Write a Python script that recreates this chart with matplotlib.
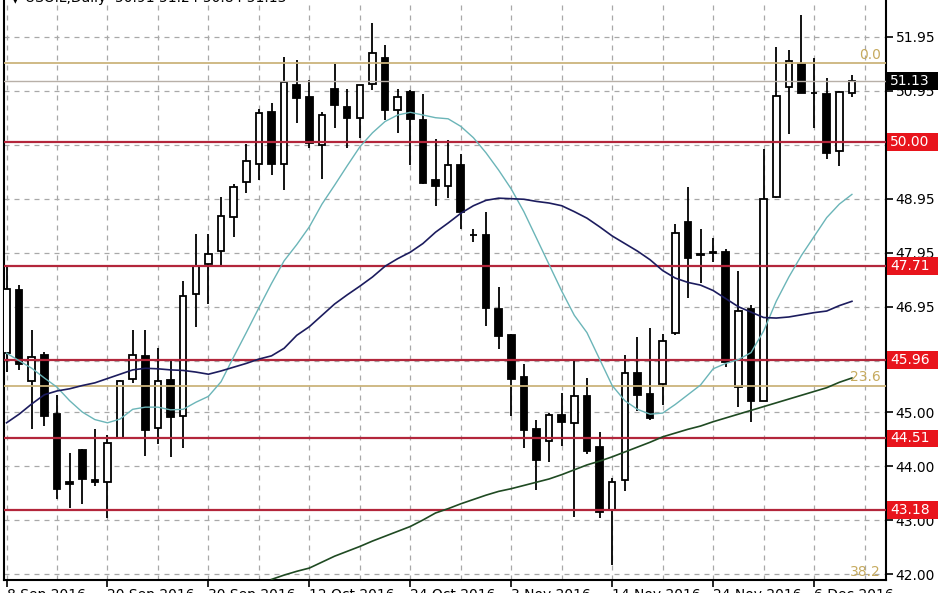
import sys
import numpy as np
import matplotlib
matplotlib.use("Agg")
import matplotlib.pyplot as plt
from matplotlib.patches import Rectangle

# daily candles (8 Sep 2016 .. 8 Dec 2016)
opens = [46.09, 47.26, 45.58, 46.05, 44.96, 43.70, 44.30, 43.75, 43.70, 44.51,
         45.62, 46.03, 44.70, 45.60, 44.93, 47.19, 47.75, 47.98, 48.62, 49.26,
         49.59, 50.56, 49.59, 51.05, 50.83, 49.95, 50.99, 50.64, 50.45, 51.08,
         51.55, 50.59, 50.92, 50.41, 49.30, 49.18, 49.58, 48.28, 48.28, 46.91,
         46.42, 45.64, 44.68, 44.47, 44.94, 44.79, 45.29, 44.35, 43.19, 43.74,
         45.72, 45.33, 45.51, 46.47, 48.52, 47.92, 47.96, 47.96, 45.47, 46.91,
         45.21, 48.99, 51.01, 51.45, 50.91, 50.89, 49.84, 50.91]
highs = [47.73, 47.35, 46.51, 46.12, 45.32, 44.24, 44.32, 44.68, 44.57, 45.60,
         46.51, 46.52, 46.18, 45.95, 47.42, 48.29, 48.29, 48.99, 49.22, 49.96,
         50.61, 50.73, 51.57, 51.52, 51.15, 50.56, 51.45, 50.98, 51.06, 52.20,
         51.80, 50.98, 50.96, 50.89, 50.06, 50.03, 49.78, 48.38, 48.71, 47.31,
         46.44, 45.88, 44.86, 44.99, 45.35, 45.95, 45.63, 44.63, 43.77, 46.05,
         46.38, 46.56, 46.44, 48.48, 49.17, 48.38, 48.22, 48.01, 47.61, 46.98,
         49.87, 51.76, 51.71, 52.36, 51.55, 51.18, 50.94, 51.24]
lows = [45.74, 45.77, 44.68, 44.75, 43.39, 43.23, 43.30, 43.63, 43.04, 44.50,
        45.53, 44.19, 44.40, 44.17, 44.33, 46.58, 47.00, 47.73, 48.24, 49.05,
        49.29, 49.38, 49.12, 50.35, 49.88, 49.32, 50.26, 49.88, 50.08, 50.96,
        50.40, 50.16, 49.58, 49.23, 48.82, 48.97, 48.38, 48.15, 46.60, 46.16,
        44.93, 44.33, 43.55, 44.07, 44.37, 43.05, 44.23, 43.04, 42.16, 43.53,
        45.02, 44.86, 45.13, 46.42, 47.12, 47.38, 47.78, 45.84, 45.09, 44.82,
        45.20, 48.96, 50.15, 50.90, 50.26, 49.68, 49.56, 50.84]
closes = [47.28, 45.88, 46.02, 44.93, 43.58, 43.67, 43.76, 43.70, 44.42, 45.58,
          46.05, 44.67, 45.58, 44.91, 47.14, 47.70, 47.93, 48.63, 49.17, 49.65,
          50.54, 49.59, 51.12, 50.82, 49.98, 50.50, 50.68, 50.45, 51.05, 51.64,
          50.59, 50.84, 50.43, 49.24, 49.19, 49.57, 48.71, 48.27, 46.93, 46.40,
          45.61, 44.67, 44.11, 44.94, 44.82, 45.29, 44.28, 43.14, 43.70, 45.72,
          45.32, 44.89, 46.31, 48.31, 47.85, 47.90, 47.95, 45.93, 46.87, 45.20,
          48.95, 50.85, 51.50, 50.91, 50.90, 49.80, 50.92, 51.13]

# moving averages as drawn on the chart
ma_fast = [46.09, 45.95, 45.81, 45.63, 45.46, 45.21, 45.00, 44.86, 44.80, 44.87,
           45.05, 45.09, 45.09, 45.04, 45.05, 45.18, 45.29, 45.56, 46.02, 46.47,
           46.93, 47.38, 47.80, 48.10, 48.43, 48.85, 49.20, 49.56, 49.91, 50.17,
           50.38, 50.50, 50.55, 50.50, 50.45, 50.43, 50.29, 50.08, 49.80, 49.48,
           49.13, 48.71, 48.22, 47.73, 47.24, 46.79, 46.47, 45.98, 45.49, 45.21,
           45.05, 44.96, 44.98, 45.14, 45.32, 45.50, 45.80, 45.90, 45.97, 46.10,
           46.50, 47.05, 47.50, 47.90, 48.25, 48.60, 48.85, 49.03]
ma_mid = [44.80, 44.96, 45.15, 45.32, 45.39, 45.43, 45.49, 45.54, 45.62, 45.70,
          45.78, 45.81, 45.80, 45.78, 45.77, 45.74, 45.70, 45.76, 45.83, 45.90,
          45.98, 46.04, 46.18, 46.42, 46.58, 46.79, 47.00, 47.17, 47.33, 47.50,
          47.70, 47.84, 47.96, 48.12, 48.33, 48.50, 48.68, 48.82, 48.92, 48.96,
          48.95, 48.94, 48.90, 48.87, 48.82, 48.71, 48.59, 48.43, 48.26, 48.12,
          47.98, 47.82, 47.62, 47.48, 47.40, 47.35, 47.25, 47.10, 46.95, 46.85,
          46.75, 46.74, 46.76, 46.80, 46.84, 46.87, 46.97, 47.05]
ma_slow_start = 21
ma_slow = [41.90, 41.98, 42.05, 42.11, 42.22, 42.33, 42.42, 42.51, 42.61, 42.70,
           42.79, 42.88, 43.00, 43.13, 43.21, 43.30, 43.38, 43.46, 43.53, 43.58,
           43.64, 43.70, 43.76, 43.84, 43.93, 44.02, 44.09, 44.17, 44.26, 44.35,
           44.44, 44.54, 44.61, 44.68, 44.74, 44.82, 44.89, 44.96, 45.03, 45.10,
           45.17, 45.24, 45.31, 45.38, 45.45, 45.55, 45.63]

# horizontal levels
red_levels = [50.00, 47.71, 45.96, 44.51, 43.18]
fib_levels = [51.46, 45.49, 41.81]
fib_names = ["0.0", "23.6", "38.2"]
last_price = 51.13

y_ticks = [51.95, 50.95, 49.95, 48.95, 47.95, 46.95, 45.95, 45.00, 44.00, 43.00, 42.00]
date_pos = [0, 8, 16, 24, 32, 40, 48, 56, 64]
date_labels = ["8 Sep 2016", "20 Sep 2016", "30 Sep 2016", "12 Oct 2016", "24 Oct 2016",
               "3 Nov 2016", "14 Nov 2016", "24 Nov 2016", "6 Dec 2016"]


def price_box(ax, v, fc):
    # box drawn over the right scale, about 50 x 18 px
    tr = ax.get_yaxis_transform()
    box = Rectangle((1.001, v - 0.165), 51 / 882, 0.33, transform=tr,
                    facecolor=fc, edgecolor='none', clip_on=False, zorder=9)
    ax.add_patch(box)
    ax.text(1.0045, v, "%.2f" % v, transform=tr, color='white', fontsize=10,
            ha='left', va='center', zorder=10, clip_on=False)


def main():
    plt.rcParams['font.family'] = ['DejaVu Sans']
    W, H = 948, 593
    fig = plt.figure(figsize=(W / 100, H / 100), dpi=100)
    ax = fig.add_axes([4 / W, 13 / H, 882 / W, 580 / H])
    ax.set_xlim(-0.2, 69.7)
    ax.set_ylim(41.889, 52.63)

    o = np.array(opens)
    h = np.array(highs)
    l = np.array(lows)
    c = np.array(closes)
    x = np.arange(len(o))
    up = c >= o

    # candles
    ax.vlines(x, l, h, color='black', lw=1.3, zorder=3)
    ax.bar(x, np.abs(c - o), bottom=np.minimum(o, c), width=0.52,
           color=np.where(up, 'white', 'black'), edgecolor='black',
           linewidth=1.3, zorder=4)

    # moving averages
    ax.plot(x, ma_fast, color='#6bb5b8', lw=1.0, zorder=6)
    ax.plot(x, ma_mid, color='#1c1c5e', lw=1.2, zorder=6)
    xs = np.arange(ma_slow_start, ma_slow_start + len(ma_slow))
    ax.plot(xs, ma_slow, color='#1f4a22', lw=1.2, zorder=6)

    # levels
    for v in red_levels:
        ax.axhline(v, color='#b3263b', lw=1.6, zorder=5)
    for v in fib_levels:
        ax.axhline(v, color='#cbb47c', lw=1.3, zorder=5)
    ax.axhline(last_price, color='#b8b0a8', lw=1.0, zorder=5)
    for v, name in zip(fib_levels, fib_names):
        ax.text(69.3, max(v + 0.02, 41.9), name, color='#c6aa5e', fontsize=10,
                ha='right', va='bottom', zorder=7)

    # grid
    ax.set_xticks(date_pos)
    ax.set_xticks(np.arange(0, 70, 4), minor=True)
    ax.set_yticks(y_ticks)
    ax.grid(which='both', axis='x', color='#a8a8a8', ls=(0, (4, 4)), lw=0.9)
    ax.grid(which='major', axis='y', color='#a8a8a8', ls=(0, (4, 4)), lw=0.9)
    ax.set_axisbelow(True)

    ax.yaxis.tick_right()
    ax.set_yticklabels(["%.2f" % v for v in y_ticks])
    ax.tick_params(axis='y', which='major', direction='out', length=5, width=1.2,
                   pad=2, labelsize=10, colors='black')
    ax.set_xticklabels(date_labels, ha='left')
    ax.tick_params(axis='x', which='major', direction='out', length=5, width=1.2,
                   pad=1, labelsize=10)
    ax.tick_params(axis='x', which='minor', length=0)

    for s in ['left', 'bottom', 'right']:
        ax.spines[s].set_linewidth(1.5)
    ax.spines['top'].set_visible(False)

    # price boxes on the right scale
    price_box(ax, last_price, 'black')
    for v in red_levels:
        price_box(ax, v, '#e8141c')

    fig.text(10 / W, 1.0 + 2 / H, u"\u25bc USOIL,Daily  50.91 51.24 50.84 51.13",
             fontsize=10, ha='left', va='center')

    fig.savefig('out.png', dpi=100, facecolor='white')


if __name__ == "__main__":
    sys.exit(int(main() or 0))
